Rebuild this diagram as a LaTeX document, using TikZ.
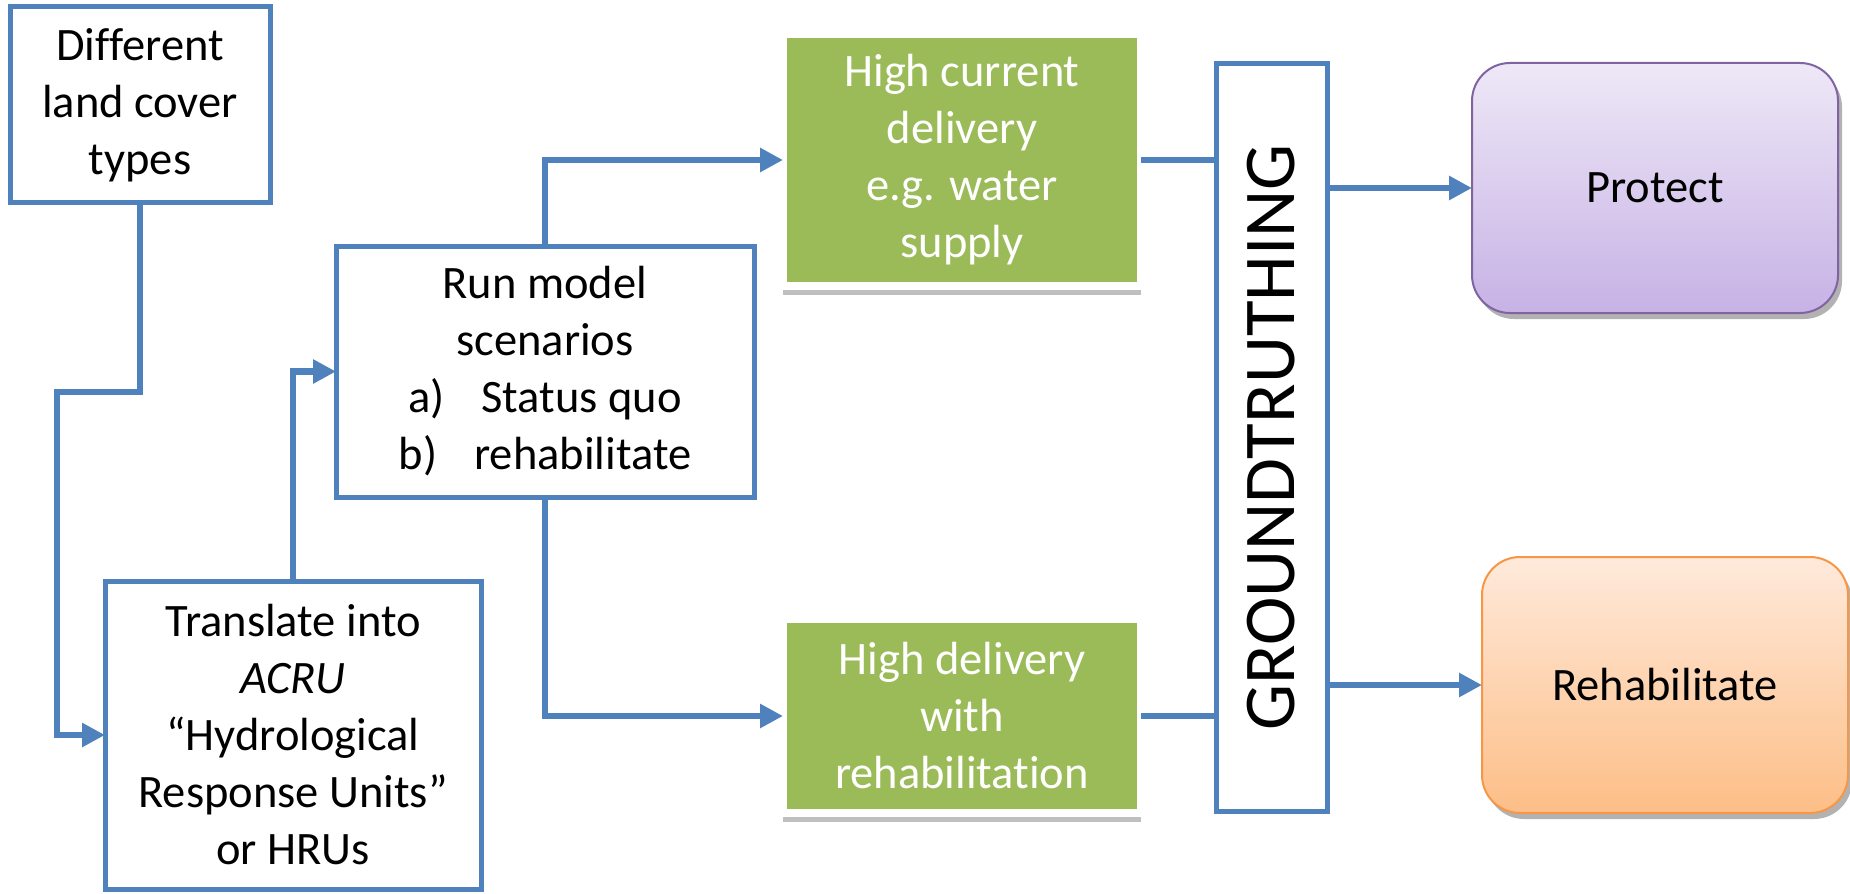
\documentclass[tikz,border=0pt]{standalone}
\usepackage{fontspec}
\setmainfont{Carlito}[Ligatures=NoCommon]
\usetikzlibrary{arrows.meta,shadows}
\definecolor{bl}{HTML}{4F81BD}
\definecolor{gr}{HTML}{9BBB59}
\definecolor{pbord}{HTML}{8064A2}
\definecolor{ptop}{HTML}{EEE8F7}
\definecolor{pbot}{HTML}{C7B2E5}
\definecolor{obord}{HTML}{F79646}
\definecolor{otop}{HTML}{FEEADB}
\definecolor{obot}{HTML}{FDBE87}
\begin{document}
\begin{tikzpicture}[x=0.5pt,y=-0.5pt,
  txt/.style={font=\fontsize{23.25pt}{28.5pt}\selectfont},
  box/.style={txt, draw=bl, line width=2.5pt, fill=white, align=center, inner sep=0pt, outer sep=0pt},
  gbox/.style={txt, draw=white, line width=4pt, fill=gr, text=white, align=center, inner sep=0pt, outer sep=0pt,
    drop shadow={shadow xshift=0pt, shadow yshift=-4.5pt, opacity=0.25, fill=black}},
  rbox/.style={txt, rounded corners=19pt, line width=1pt, align=center, inner sep=0pt, outer sep=0pt,
    drop shadow={shadow xshift=2pt, shadow yshift=-3pt, opacity=0.3, fill=black}},
  conn/.style={draw=bl, line width=3.2pt},
  arr/.style={conn, -{Triangle[length=11.5pt,width=11.5pt]}},
]
\useasboundingbox (0,0) rectangle (1850,893);

\node[box, minimum width=130pt, minimum height=98pt] (land) at (140,105)
  {Different\\land cover\\types};
\node[box, minimum width=188pt, minimum height=154pt] (acru) at (293,735)
  {Translate into\\\textit{ACRU}\\“Hydrological\\Response Units”\\or HRUs};
\node[box, minimum width=209pt, minimum height=125.5pt] (run) at (545,371.5)
  {Run model\\scenarios\\a)\hspace{0.8em}Status quo\\b)\hspace{0.8em}rehabilitate};
\node[gbox, minimum width=179pt, minimum height=126pt] (g1) at (962,160)
  {High current\\delivery\\e.g. water\\supply};
\node[gbox, minimum width=179pt, minimum height=97pt] (g2) at (962,716)
  {High delivery\\with\\rehabilitation};
\node[box, minimum width=55.5pt, minimum height=373.5pt] (gt) at (1271.5,437.5)
  {\rotatebox{90}{\fontsize{36.5pt}{40pt}\selectfont GROUNDTRUTHING}};
\node[rbox, draw=pbord, top color=ptop, bottom color=pbot, minimum width=183pt, minimum height=125pt] (protect) at (1655,188)
  {Protect};
\node[rbox, draw=obord, top color=otop, bottom color=obot, minimum width=183pt, minimum height=128pt] (rehab) at (1665,685)
  {Rehabilitate};

\coordinate (c1) at (57,392);

\draw[arr] (land.south) |- (c1) |- (acru.west);
\draw[arr] (acru.north) |- (run.west);
\draw[arr] (run.north) |- (g1.west);
\draw[arr] (run.south) |- (g2.west);
\draw[conn] (g1.east) -- (g1.east -| gt.west);
\draw[conn] (g2.east) -- (g2.east -| gt.west);
\draw[arr] (gt.east |- protect.west) -- (protect.west);
\draw[arr] (gt.east |- rehab.west) -- (rehab.west);
\end{tikzpicture}
\end{document}
